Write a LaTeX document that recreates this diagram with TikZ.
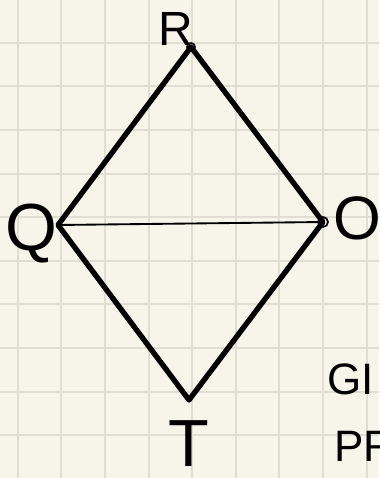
\documentclass[tikz,border=0pt]{standalone}
\usepackage{fontspec}
\setsansfont{Liberation Sans}
\usetikzlibrary{positioning}

\definecolor{paper}{HTML}{F7F5E9}
\definecolor{gridln}{HTML}{E0DED2}

\begin{document}
\begin{tikzpicture}[x=0.75pt, y=-0.75pt,
    every node/.style={font=\sffamily, inner sep=0pt},
    side/.style={line width=4pt, line cap=round, line join=round},
    diag/.style={line width=1.4pt, line cap=round},
    dot/.style={line width=1.3pt},
    vlbl/.style={font=\sffamily\fontsize{50}{50}\selectfont},
    note/.style={font=\sffamily\fontsize{33}{33}\selectfont, anchor=west},
]
\useasboundingbox (0,0) rectangle (379,478);
\clip (0,0) rectangle (379,478);
\fill[paper] (0,0) rectangle (379,478);
% grid
\foreach \i in {0,...,8} \draw[gridln, line width=1.5pt] (17.7+43.6*\i,0) -- (17.7+43.6*\i,478);
\foreach \j in {1,...,10} \draw[gridln, line width=1.5pt] (0,-0.9+43.6*\j) -- (379,-0.9+43.6*\j);
% vertices
\coordinate (r) at (191,47);
\coordinate (q) at (58,225);
\coordinate (o) at (323,222);
\coordinate (t) at (189,400);
\node[vlbl, font=\sffamily\fontsize{36}{36}\selectfont] (lr) at (176,29) {R};
\node[vlbl] (lq) at (31,234) {Q};
\node[vlbl, font=\sffamily\fontsize{46}{46}\selectfont] (lo) at (357,218) {O};
\node[vlbl] (lt) at (189,444) {T};
\node[note] (given) at (327,379) {GI};
\node[note] (prove) at (334,446) {PR};
% rhombus
\draw[side] (q) -- (r) -- (o) -- (t) -- cycle;
\draw[diag] (q) -- (o);
\draw[dot] (r) circle (4);
\draw[dot] (o) circle (5);
\end{tikzpicture}
\end{document}
